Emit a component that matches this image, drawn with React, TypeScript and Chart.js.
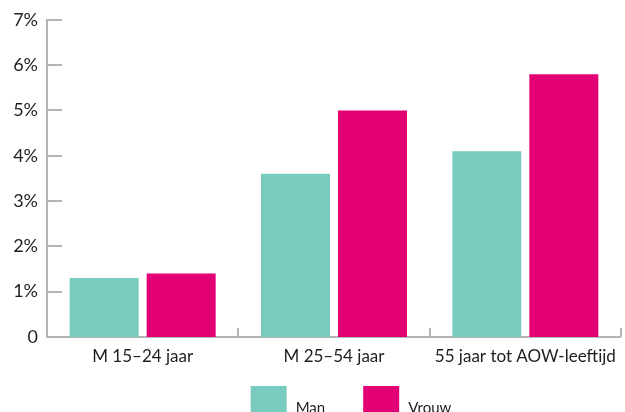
import React, { useEffect, useRef } from "react";
import { Chart, registerables } from "chart.js";

Chart.register(...registerables);

const categories = ["M 15–24 jaar", "M 25–54 jaar", "55 jaar tot AOW-leeftijd"];
const manValues = [1.3, 3.6, 4.1];
const vrouwValues = [1.4, 5.0, 5.8];
const yTicks = [0, 1, 2, 3, 4, 5, 6, 7];

const MAN_COLOR = "#7acbbf";
const VROUW_COLOR = "#e20074";
const AXIS_COLOR = "#b5b5b5";
const TEXT_COLOR = "#1e1e1e";
const FONT = "Lato, 'Noto Sans', sans-serif";

// Short tick marks that point into the plot from both axes.
const innerTicks = {
  id: "innerTicks",
  afterDraw(chart: any) {
    const { ctx, chartArea, scales } = chart;
    const x = scales.x;
    const y = scales.y;
    ctx.save();
    ctx.strokeStyle = AXIS_COLOR;
    ctx.lineWidth = 2;
    ctx.beginPath();
    yTicks.forEach((v) => {
      if (v === 0) return;
      const py = Math.round(y.getPixelForValue(v));
      ctx.moveTo(chartArea.left, py);
      ctx.lineTo(chartArea.left + 15, py);
    });
    const half = (x.getPixelForValue(1) - x.getPixelForValue(0)) / 2;
    categories.forEach((_, i) => {
      const px = Math.round(x.getPixelForValue(i) + half);
      ctx.moveTo(px, chartArea.bottom);
      ctx.lineTo(px, chartArea.bottom - 9);
    });
    ctx.stroke();
    ctx.restore();
  },
};

// Legend row below the category labels.
const bottomLegend = {
  id: "bottomLegend",
  afterDraw(chart: any) {
    const { ctx, chartArea } = chart;
    const boxW = 36;
    const boxH = 40;
    const gapText = 9;
    const gapItem = 38;
    ctx.save();
    ctx.font = `15px ${FONT}`;
    ctx.textBaseline = "middle";
    ctx.textAlign = "left";
    const items = chart.data.datasets.map((ds: any) => ({
      label: ds.label,
      color: ds.backgroundColor,
      w: boxW + gapText + ctx.measureText(ds.label).width,
    }));
    const total = items.reduce((s: number, it: any) => s + it.w, 0) + gapItem * (items.length - 1);
    const center = (chartArea.left + chartArea.right) / 2 + 17;
    let cx = center - total / 2;
    const top = chartArea.bottom + 49;
    items.forEach((it: any) => {
      ctx.fillStyle = it.color;
      ctx.fillRect(cx, top, boxW, boxH);
      ctx.fillStyle = TEXT_COLOR;
      ctx.fillText(it.label, cx + boxW + gapText, top + 22);
      cx += it.w + gapItem;
    });
    ctx.restore();
  },
};

export default function App() {
  const ref = useRef<HTMLCanvasElement>(null);

  useEffect(() => {
    if (!ref.current) return;
    const chart = new Chart(ref.current, {
      type: "bar",
      data: {
        labels: categories,
        datasets: [
          { label: "Man", data: manValues, backgroundColor: MAN_COLOR },
          { label: "Vrouw", data: vrouwValues, backgroundColor: VROUW_COLOR },
        ],
      },
      options: {
        responsive: false,
        animation: false,
        devicePixelRatio: 1,
        layout: { padding: { top: 14.2, right: 1, bottom: 45, left: 0 } },
        datasets: { bar: { categoryPercentage: 0.805, barPercentage: 0.896 } },
        plugins: {
          legend: { display: false },
          tooltip: { enabled: false },
        },
        scales: {
          x: {
            grid: { display: false, drawTicks: false },
            border: { display: true, color: AXIS_COLOR, width: 2 },
            ticks: {
              color: TEXT_COLOR,
              font: { family: FONT, size: 17 },
              padding: 9,
              maxRotation: 0,
              autoSkip: false,
            },
            afterFit: (s: any) => {
              s.height = 30;
            },
          },
          y: {
            min: 0,
            max: 7,
            grid: { display: false, drawTicks: false },
            border: { display: true, color: AXIS_COLOR, width: 2 },
            afterBuildTicks: (s: any) => {
              s.ticks = yTicks.map((v) => ({ value: v }));
            },
            ticks: {
              color: TEXT_COLOR,
              font: { family: FONT, size: 18 },
              padding: 9,
              callback: (v: any) => (Number(v) === 0 ? "0" : `${v}%`),
            },
            afterFit: (s: any) => {
              s.width = 47;
            },
          },
        },
      },
      plugins: [innerTicks, bottomLegend],
    });
    return () => chart.destroy();
  }, []);

  return (
    <div style={{ position: "absolute", left: 0, top: 0, width: 625, height: 412, background: "#fff" }}>
      <canvas ref={ref} width={625} height={412} />
    </div>
  );
}
